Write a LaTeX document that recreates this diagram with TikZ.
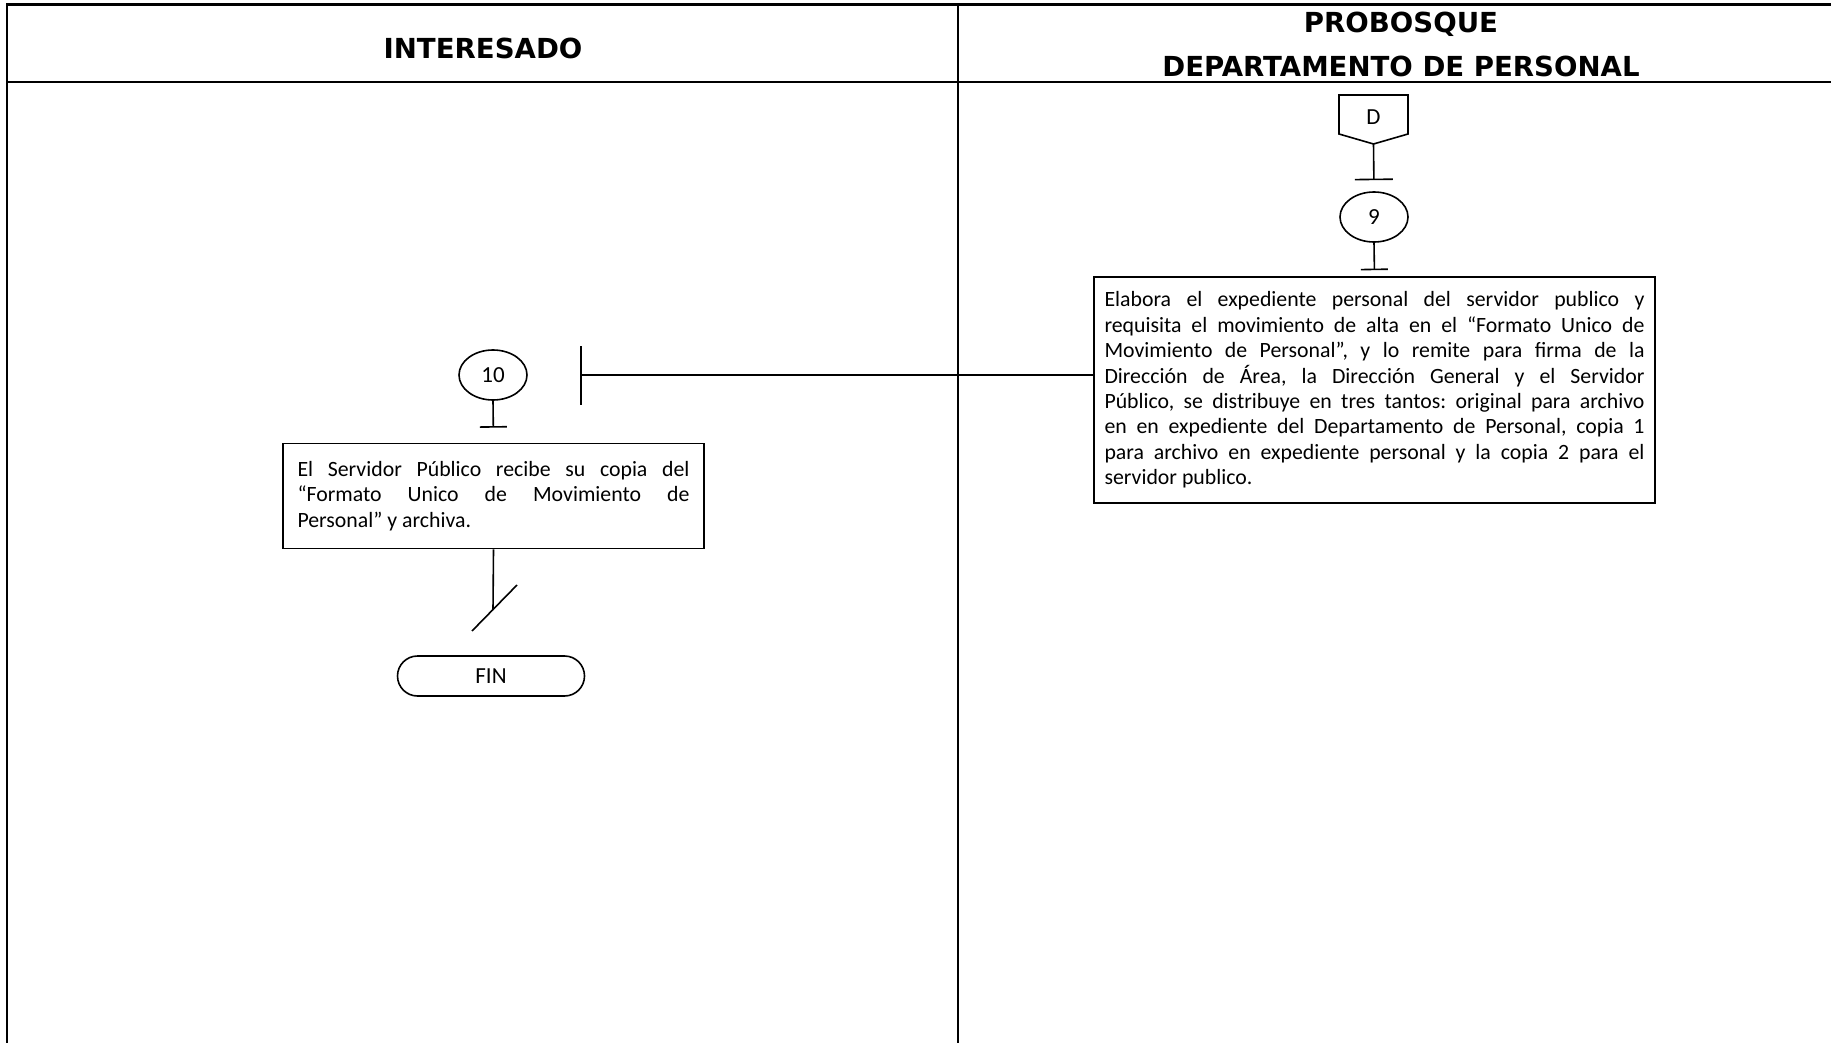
\documentclass[tikz,border=0pt]{standalone}
\usepackage{fontspec}
\setmainfont{Carlito}
\newfontfamily\hdrfont{DejaVu Sans}
\usetikzlibrary{arrows.meta,shapes.geometric,shapes.misc,positioning}

\tikzset{
  frame/.style={line width=1.15pt},
  hdr/.style={anchor=base,font=\hdrfont\bfseries\fontsize{13.8}{16}\selectfont},
  conn/.style={draw,ellipse,line width=0.8pt,minimum width=34pt,minimum height=25pt,inner sep=0pt,font=\fontsize{11.5}{13}\selectfont},
  task/.style={draw,rectangle,line width=0.8pt,align=justify,font=\fontsize{10.9}{12.7}\selectfont\frenchspacing},
  term/.style={draw,rounded rectangle,line width=0.8pt,minimum width=93.5pt,minimum height=20pt,inner sep=0pt,font=\fontsize{11.5}{13}\selectfont},
  flow/.style={line width=0.8pt},
}

\begin{document}
\begin{tikzpicture}[x=0.5pt,y=-0.5pt]
\useasboundingbox (0,0) rectangle (1831,1043);

% Lanes
\draw[frame] (6,4.5) -- (1831,4.5);
\draw[frame] (6,82) -- (1831,82);
\draw[frame] (7,4.5) -- (7,1043);
\draw[frame] (958,4.5) -- (958,1043);

\node[hdr] (interesado) at (483,59) {INTERESADO};
\node[hdr] (probosque) at (1401,33) {PROBOSQUE};
\node[hdr] (depto) at (1401,77) {DEPARTAMENTO DE PERSONAL};

% Connector D
\draw[flow] (1339,95) -- (1408,95) -- (1408,134) -- (1373.5,144) -- (1339,134) -- cycle;
\node[font=\fontsize{11.5}{13}\selectfont] (conD) at (1373.5,117) {D};
\coordinate (conDtip) at (1373.5,144);

% Step 9
\node[conn] (c9) at (1374,217) {9};
\draw[flow,-{Bar[width=19pt]},shorten >=5.5pt] (conDtip) -- (c9.north);

\node[task,text width=270pt,inner xsep=5.25pt,minimum height=113pt] (box9) at (1374.5,390)
  {Elabora el expediente personal del servidor publico y\linebreak
   requisita el movimiento de alta en el “Formato Unico de\linebreak
   Movimiento de Personal”, y lo remite para firma de la\linebreak
   Dirección de Área, la Dirección General y el Servidor\linebreak
   Público, se distribuye en tres tantos: original para archivo\linebreak
   en en expediente del Departamento de Personal, copia 1\linebreak
   para archivo en expediente personal y la copia 2 para el\linebreak
   servidor publico.};
\draw[flow,-{Bar[width=13.5pt]},shorten >=3pt] (c9.south) -- (box9.north);

% Step 10
\node[conn] (c10) at (493,375) {10};
\coordinate (bar10) at (580,375);
\draw[flow,-{Bar[width=29.5pt]}] (box9.west |- bar10) -- (bar10);

\node[task,text width=196pt,inner xsep=7.25pt,minimum height=52.5pt] (box10) at (493.5,496)
  {El Servidor Público recibe su copia del\linebreak
   “Formato Unico de Movimiento de\linebreak
   Personal” y archiva.};
\draw[flow,-{Bar[width=13.5pt]},shorten >=7.5pt] (c10.south) -- (box10.north);

% Fin
\coordinate (fincut) at (493,610);
\draw[flow] (box10.south) -- (fincut);
\draw[flow] ([shift={(-21,21)}]fincut) -- ([shift={(24,-25)}]fincut);
\node[term] (fin) at (491,676) {FIN};
\end{tikzpicture}
\end{document}
